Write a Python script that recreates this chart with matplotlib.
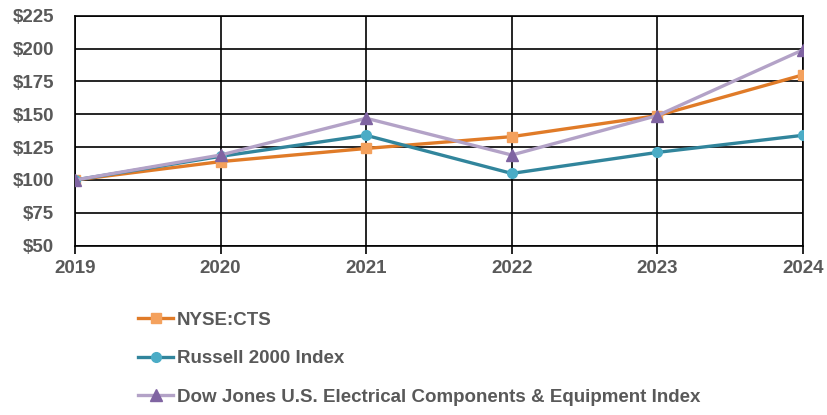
import matplotlib
matplotlib.use('Agg')
import matplotlib.pyplot as plt

years = ['2019', '2020', '2021', '2022', '2023', '2024']
cts = [100, 114, 124, 133, 149, 180]
russell = [100, 118, 134, 105, 121, 134]
dow = [100, 119, 147, 119, 149, 199]
y_ticks = [50, 75, 100, 125, 150, 175, 200, 225]

fam = 'Liberation Sans'
plt.rcParams['font.family'] = fam
grey = '#595959'

fig = plt.figure(figsize=(8.28, 4.15), dpi=100)
ax = fig.add_axes([0.0906, 0.408, 0.879, 0.554])

x = list(range(len(years)))
ax.plot(x, cts, color='#E07B28', lw=2.4, marker='s', ms=7, mfc='#F4A15D', mec='#F4A15D',
        label='NYSE:CTS', zorder=3)
ax.plot(x, russell, color='#31859C', lw=2.4, marker='o', ms=7, mfc='#4BACC6', mec='#4BACC6',
        label='Russell 2000 Index', zorder=3)
ax.plot(x, dow, color='#B3A2C7', lw=2.4, marker='^', ms=8, mfc='#8064A2', mec='#8064A2',
        label='Dow Jones U.S. Electrical Components & Equipment Index', zorder=4)

ax.set_xlim(0, len(years) - 1)
ax.set_ylim(50, 225)
ax.set_xticks(x)
ax.set_xticklabels(years)
ax.set_yticks(y_ticks)
ax.set_yticklabels(['$%d' % v for v in y_ticks])
ax.grid(True, color='black', lw=1.2)
for s in ax.spines.values():
    s.set_color('black')
    s.set_linewidth(1.2)
ax.tick_params(axis='x', length=6, width=1.2, color='black', pad=4, labelsize=13.5, labelcolor=grey)
ax.tick_params(axis='y', length=0, pad=15, labelsize=13.5, labelcolor=grey)
for t in ax.get_xticklabels() + ax.get_yticklabels():
    t.set_fontweight('bold')

leg = fig.legend(loc='upper left', bbox_to_anchor=(0.146, 0.29), frameon=False,
                 handlelength=1.9, labelspacing=1.15, handletextpad=0.2,
                 prop={'family': fam, 'weight': 'bold', 'size': 13.5})
for t in leg.get_texts():
    t.set_color(grey)

fig.savefig('out.png', dpi=100)
